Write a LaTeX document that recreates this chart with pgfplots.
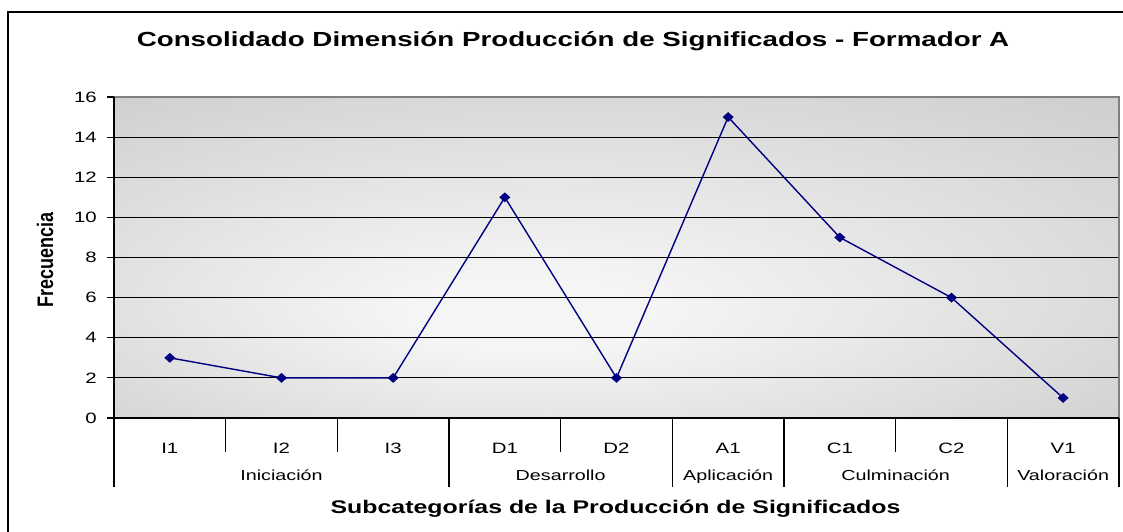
\documentclass[border=0pt]{standalone}
\usepackage{pgfplots}
\pgfplotsset{compat=1.18}
\usepackage{fontspec}
\setmainfont{Liberation Sans}
\newfontfamily\wide[FakeStretch=1.36]{Liberation Sans}
\definecolor{navyline}{HTML}{000080}
\definecolor{bgedge}{HTML}{BFBFBF}
\definecolor{bgcenter}{HTML}{F5F5F5}
\definecolor{bordergray}{HTML}{808080}
\pgfdeclareradialshading{plotbg}{\pgfpoint{-5bp}{-10bp}}{color(0bp)=(bgcenter); color(6bp)=(bgcenter); color(50bp)=(bgedge)}
\begin{document}
\begin{tikzpicture}
\path[use as bounding box] (0pt,0pt) rectangle (1123pt,-532pt);
\draw[line width=1.3pt] (1130pt,-12pt) -- (8pt,-12pt) -- (8pt,-540pt);
\node[anchor=base, font=\wide\bfseries\fontsize{20.4}{24}\selectfont] at (573pt,-47pt) {Consolidado Dimensión Producción de Significados - Formador A};
\node[anchor=base, rotate=90, font=\bfseries\fontsize{18}{20}\selectfont] at (53pt,-260pt) {\scalebox{1}[1.25]{Frecuencia}};
\node[anchor=base, font=\wide\bfseries\fontsize{18.3}{20}\selectfont] at (615.5pt,-513pt) {Subcategorías de la Producción de Significados};
\begin{axis}[
  at={(114pt,-418pt)}, anchor=south west,
  scale only axis, width=1005pt, height=321pt,
  xmin=-0.5, xmax=8.5, ymin=0, ymax=16,
  ytick={0,2,...,16},
  xtick={0,...,8},
  xticklabels={I1,I2,I3,D1,D2,A1,C1,C2,V1},
  clip=false,
  axis line style={draw=none},
  axis background/.style={shade, shading=plotbg},
  ymajorgrids,
  major grid style={black, line width=1.2pt},
  xtick style={draw=none},
  ytick style={black, line width=1.2pt},
  ytick pos=left,
  tick align=outside,
  major tick length=7pt,
  /pgf/number format/assume math mode=true,
  tick label style={font=\wide\fontsize{15}{17}\selectfont},
  yticklabel style={anchor=east, inner sep=0pt, xshift=-10pt},
  xticklabel style={anchor=base, inner sep=0pt, yshift=-28pt},
]
\addplot[navyline, line width=1.4pt, mark=diamond*, mark size=4pt, mark options={xscale=1.5, fill=navyline}]
  coordinates {(0,3) (1,2) (2,2) (3,11) (4,2) (5,15) (6,9) (7,6) (8,1)};
\draw[bordergray, line width=1.6pt] (rel axis cs:0,1) -- (rel axis cs:1,1) -- (rel axis cs:1,0);
\draw[black, line width=1.3pt] (rel axis cs:0,1) -- (rel axis cs:0,0) -- (rel axis cs:1,0);
\pgfplotsinvokeforeach{0.5,1.5,3.5,6.5}{\draw[black, line width=1.4pt] (axis cs:#1,0) -- ++(0pt,-34pt);}
\pgfplotsinvokeforeach{-0.5,2.5,4.5,5.5,7.5,8.5}{\draw[black, line width=1.4pt] (axis cs:#1,0) -- ++(0pt,-69pt);}
\node[anchor=base, font=\wide\fontsize{14.5}{16}\selectfont, yshift=-62pt] at (axis cs:1,0) {Iniciación};
\node[anchor=base, font=\wide\fontsize{14.5}{16}\selectfont, yshift=-62pt] at (axis cs:3.5,0) {Desarrollo};
\node[anchor=base, font=\wide\fontsize{14.5}{16}\selectfont, yshift=-62pt] at (axis cs:5,0) {Aplicación};
\node[anchor=base, font=\wide\fontsize{14.5}{16}\selectfont, yshift=-62pt] at (axis cs:6.5,0) {Culminación};
\node[anchor=base, font=\wide\fontsize{14.5}{16}\selectfont, yshift=-62pt] at (axis cs:8,0) {Valoración};
\end{axis}
\end{tikzpicture}
\end{document}
